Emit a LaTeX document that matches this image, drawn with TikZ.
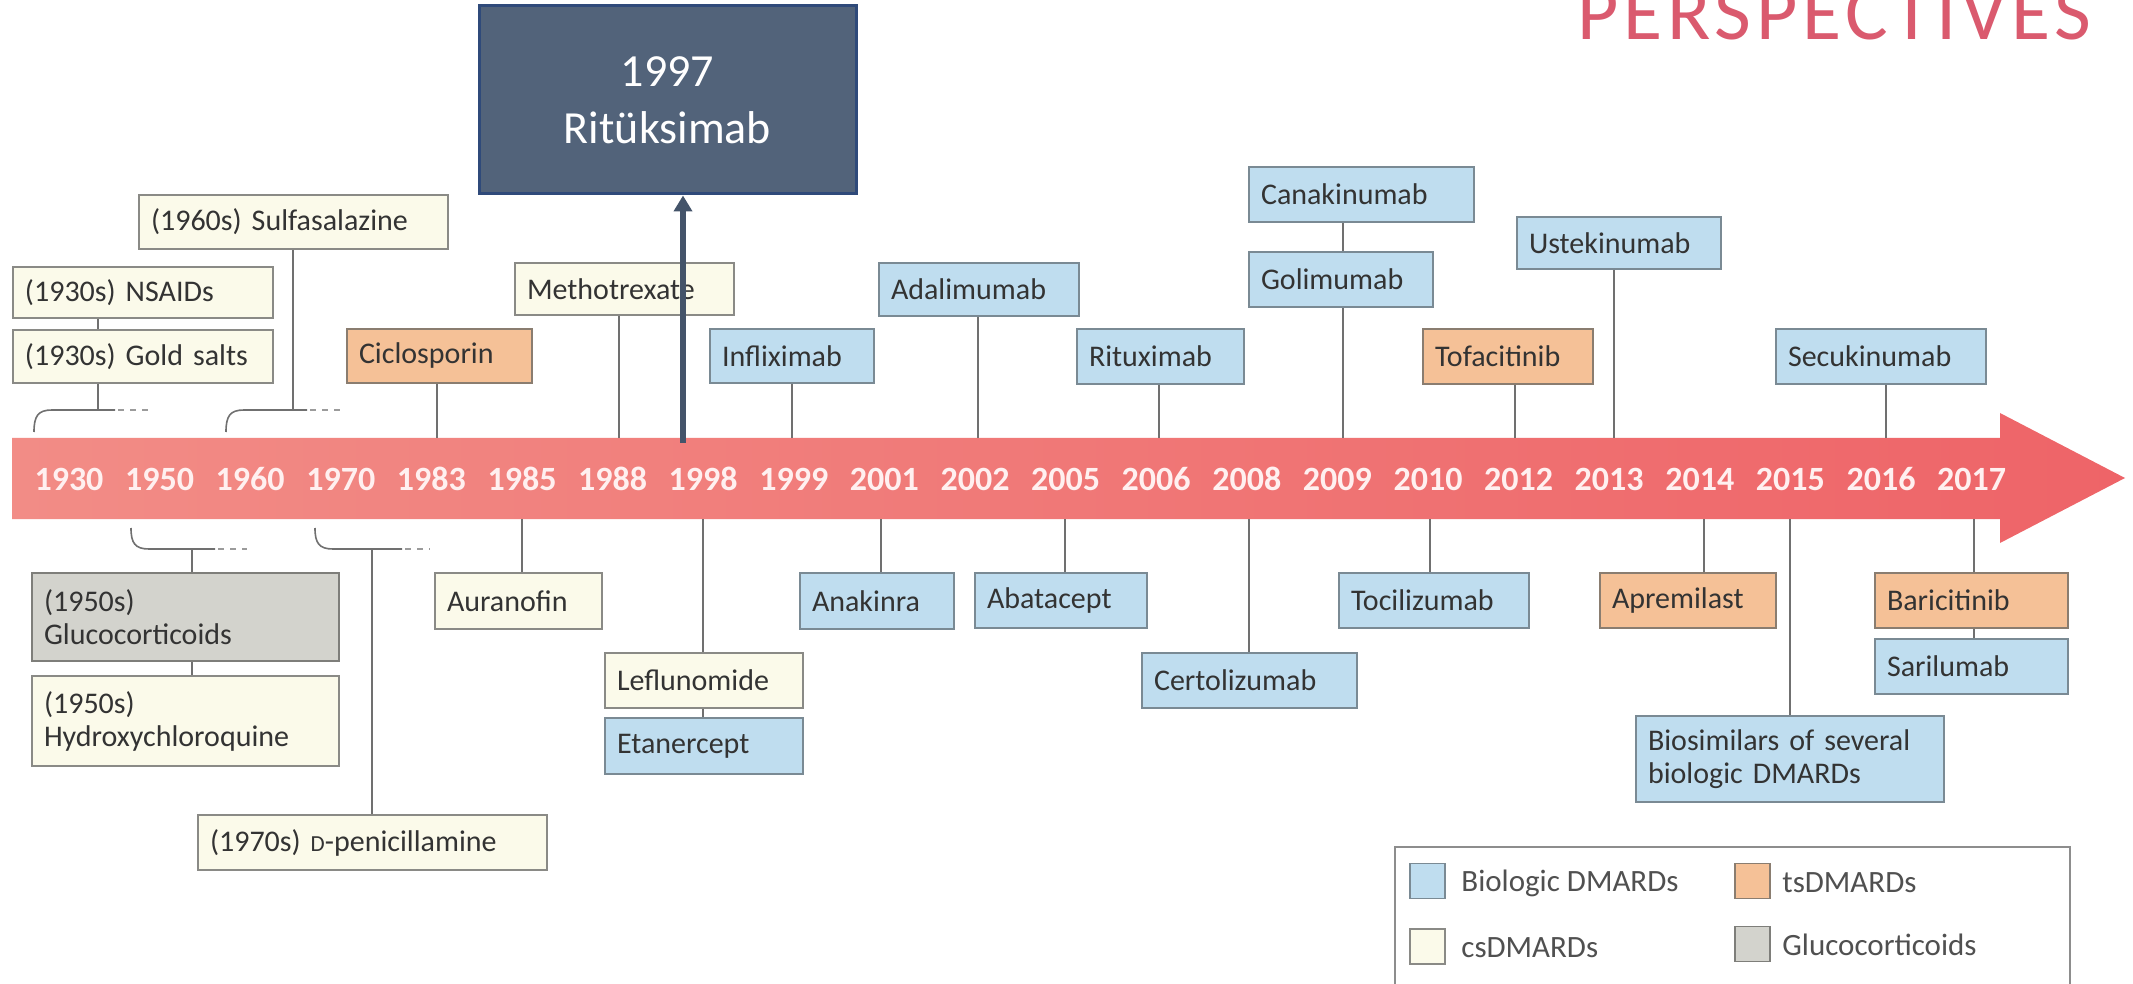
\documentclass[tikz,border=0pt]{standalone}
\usepackage{fontspec}
\setmainfont{Carlito}
\usetikzlibrary{arrows.meta}
\definecolor{biofill}{HTML}{BFDDEF}
\definecolor{biodraw}{HTML}{7A8A94}
\definecolor{csfill}{HTML}{FBFAEA}
\definecolor{csdraw}{HTML}{8A8A86}
\definecolor{tsfill}{HTML}{F5C197}
\definecolor{tsdraw}{HTML}{8A7D70}
\definecolor{gcfill}{HTML}{D3D3CD}
\definecolor{gcdraw}{HTML}{7E7E7A}
\definecolor{textc}{HTML}{333333}
\definecolor{lineC}{HTML}{707070}
\definecolor{barL}{HTML}{F28C86}
\definecolor{barR}{HTML}{EE6468}
\definecolor{darkfill}{HTML}{52637A}
\definecolor{darkdraw}{HTML}{2F4A7A}
\definecolor{arrowc}{HTML}{44546A}
\definecolor{persp}{HTML}{DA5A6E}
\definecolor{legtext}{HTML}{505050}
\newcommand\bx[7]{%
 \pgfmathsetmacro\bxw{0.5*(#5-#3)}%
 \pgfmathsetmacro\bxh{0.5*(#6-#4)}%
 \pgfmathsetmacro\bxt{0.5*(#5-#3)-12}%
 \node[box,#2,minimum width=\bxw pt,minimum height=\bxh pt,text width=\bxt pt] (#1) at ({(#3+#5)/2},{(#4+#6)/2}) {#7};}
\tikzset{
 box/.style={draw,line width=0.9pt,inner xsep=6pt,inner ysep=0pt,align=left,
   font=\fontsize{15}{16.5}\selectfont,text=textc},
 bio/.style={fill=biofill,draw=biodraw},
 cs/.style={fill=csfill,draw=csdraw},
 ts/.style={fill=tsfill,draw=tsdraw},
 gc/.style={fill=gcfill,draw=gcdraw},
 conn/.style={draw=lineC,line width=0.8pt},
 dots/.style={draw=lineC!70,line width=0.8pt,dash pattern=on 3pt off 3pt},
 year/.style={font=\fontsize{17}{17}\selectfont\bfseries,text=white!94!red},
 legsq/.style={draw,line width=0.8pt,minimum width=17.5pt,minimum height=17.5pt,inner sep=0pt},
 legtx/.style={anchor=west,font=\fontsize{15.5}{17}\selectfont,text=legtext,inner sep=0pt},
}
\begin{document}
\begin{tikzpicture}[x=0.5pt,y=-0.5pt]
\useasboundingbox (0,0) rectangle (2133,984);
\clip (0,0) rectangle (2133,984);
\fill[white] (0,0) rectangle (2133,984);
% header (cut at the top edge, as in the reference)
\node[anchor=base west,inner sep=0pt,font=\fontsize{40}{40}\selectfont\addfontfeatures{LetterSpace=6},text=persp] (persp) at (1577,40) {PERSPECTIVES};
% timeline bar
\shade[left color=barL,right color=barR] (12,438) -- (2000,438) -- (2000,413) -- (2125,478) -- (2000,543) -- (2000,519) -- (12,519) -- cycle;
\foreach \yr [count=\i from 0] in {1930,1950,1960,1970,1983,1985,1988,1998,1999,2001,2002,2005,2006,2008,2009,2010,2012,2013,2014,2015,2016,2017}
  \node[year] (y\yr) at ({69+90.6*\i},479) {\yr};
% coordinates on the bar edges
\foreach \n/\x in {83/437,88/619,99/792,02/978,06/1159,09/1343,12/1515,13/1614,16/1886}
  \coordinate (T\n) at (\x,438);
\foreach \n/\x in {85/522,98/703,01/881,05/1065,08/1249,10/1430,14/1704,15/1790,17/1974}
  \coordinate (B\n) at (\x,519);
% boxes above
\bx{sulfa}{cs}{139}{195}{448}{249}{(1960s) Sulfasalazine}
\bx{nsaid}{cs}{13}{267}{273}{318}{(1930s) NSAIDs}
\bx{gold}{cs}{13}{330}{273}{383}{(1930s) Gold salts}
\bx{ciclo}{ts}{347}{329}{532}{383}{Ciclosporin}
\bx{metho}{cs}{515}{263}{734}{315}{Methotrexate}
\bx{infli}{bio}{710}{329}{874}{383}{Infliximab}
\bx{adali}{bio}{879}{263}{1079}{316}{Adalimumab}
\bx{ritux}{bio}{1077}{329}{1244}{384}{Rituximab}
\bx{canak}{bio}{1249}{167}{1474}{222}{Canakinumab}
\bx{golim}{bio}{1249}{252}{1433}{307}{Golimumab}
\bx{ustek}{bio}{1517}{217}{1721}{269}{Ustekinumab}
\bx{tofac}{ts}{1423}{329}{1593}{384}{Tofacitinib}
\bx{secuk}{bio}{1776}{329}{1986}{384}{Secukinumab}
% boxes below
\bx{gluco}{gc}{32}{573}{339}{661}{(1950s)\\Glucocorticoids}
\bx{hydro}{cs}{32}{676}{339}{766}{(1950s)\\Hydroxychloroquine}
\bx{penic}{cs}{198}{815}{547}{870}{(1970s) {\fontsize{11.5}{12}\selectfont D}-penicillamine}
\bx{aura}{cs}{435}{573}{602}{629}{Auranofin}
\bx{leflu}{cs}{605}{653}{803}{708}{Leflunomide}
\bx{etan}{bio}{605}{718}{803}{774}{Etanercept}
\bx{anak}{bio}{800}{573}{954}{629}{Anakinra}
\bx{abat}{bio}{975}{573}{1147}{628}{Abatacept}
\bx{certo}{bio}{1142}{653}{1357}{708}{Certolizumab}
\bx{toci}{bio}{1339}{573}{1529}{628}{Tocilizumab}
\bx{aprem}{ts}{1600}{573}{1776}{628}{Apremilast}
\bx{baric}{ts}{1875}{573}{2068}{628}{Baricitinib}
\bx{saril}{bio}{1875}{639}{2068}{694}{Sarilumab}
\bx{biosim}{bio}{1636}{716}{1944}{802}{Biosimilars of several\\biologic DMARDs}
% connectors above
\coordinate (K30) at (98,410);
\coordinate (K60) at (293,410);
\draw[conn] (nsaid.south -| K30) -- (gold.north -| K30);
\draw[conn] (gold.south -| K30) -- (K30);
\draw[conn] (34,432) .. controls (34,416) and (38,410) .. (52,410) -- (115,410);
\draw[dots] (118,410) -- (152,410);
\draw[conn] (sulfa.south -| K60) -- (K60);
\draw[conn] (226,432) .. controls (226,416) and (230,410) .. (244,410) -- (307,410);
\draw[dots] (310,410) -- (344,410);
\draw[conn] (ciclo.south -| T83) -- (T83);
\draw[conn] (metho.south -| T88) -- (T88);
\draw[conn] (infli.south -| T99) -- (T99);
\draw[conn] (adali.south -| T02) -- (T02);
\draw[conn] (ritux.south -| T06) -- (T06);
\draw[conn] (canak.south -| T09) -- (golim.north -| T09);
\draw[conn] (golim.south -| T09) -- (T09);
\draw[conn] (tofac.south -| T12) -- (T12);
\draw[conn] (ustek.south -| T13) -- (T13);
\draw[conn] (secuk.south -| T16) -- (T16);
% connectors below
\coordinate (K50) at (192,549);
\coordinate (K70) at (372,549);
\draw[conn] (131,528) .. controls (131,543) and (135,549) .. (149,549) -- (215,549);
\draw[dots] (218,549) -- (247,549);
\draw[conn] (K50) -- (gluco.north -| K50);
\draw[conn] (gluco.south -| K50) -- (hydro.north -| K50);
\draw[conn] (315,528) .. controls (315,543) and (319,549) .. (333,549) -- (402,549);
\draw[dots] (405,549) -- (430,549);
\draw[conn] (K70) -- (penic.north -| K70);
\draw[conn] (B85) -- (aura.north -| B85);
\draw[conn] (B98) -- (leflu.north -| B98);
\draw[conn] (leflu.south -| B98) -- (etan.north -| B98);
\draw[conn] (B01) -- (anak.north -| B01);
\draw[conn] (B05) -- (abat.north -| B05);
\draw[conn] (B08) -- (certo.north -| B08);
\draw[conn] (B10) -- (toci.north -| B10);
\draw[conn] (B14) -- (aprem.north -| B14);
\draw[conn] (B15) -- (biosim.north -| B15);
\draw[conn] (B17) -- (baric.north -| B17);
\draw[conn] (baric.south -| B17) -- (saril.north -| B17);
% legend
\draw[draw=lineC!80,line width=0.9pt] (1395,1000) -- (1395,847) -- (2070,847) -- (2070,1000);
\node[legsq,bio] (lbio) at (1427.5,881) {};
\node[legtx] (tbio) at (1461,883) {Biologic DMARDs};
\node[legsq,ts] (lts) at (1752.5,881) {};
\node[legtx] (tts) at (1782,883) {tsDMARDs};
\node[legsq,cs] (lcs) at (1427.5,946.5) {};
\node[legtx] (tcs) at (1461,948) {csDMARDs};
\node[legsq,gc] (lgc) at (1752.5,944) {};
\node[legtx] (tgc) at (1782,945) {Glucocorticoids};
% highlighted box
\node[fill=darkfill,draw=darkdraw,line width=1.5pt,minimum width=188.5pt,minimum height=94pt,
  align=center,text=white,font=\fontsize{23}{28.5}\selectfont] (rk) at (667.5,100) {1997\\Ritüksimab};
\coordinate (R98) at (683,443);
\draw[draw=arrowc,line width=3pt,-{Triangle[length=8pt,width=9pt]}] (R98) -- (rk.south -| R98);
\end{tikzpicture}
\end{document}
